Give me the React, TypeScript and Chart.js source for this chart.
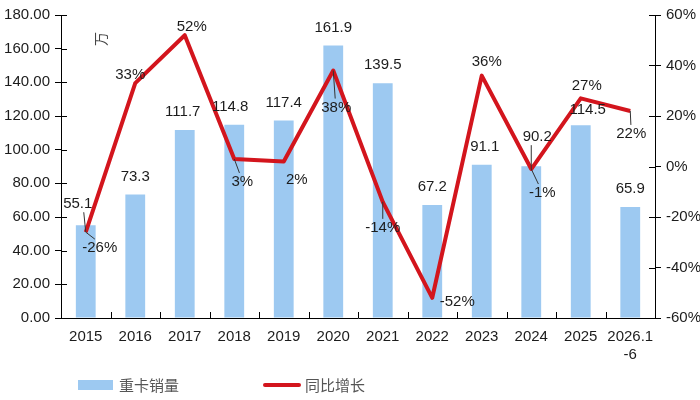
import React, { useEffect, useRef } from "react";
import { Chart, registerables } from "chart.js";

Chart.register(...registerables);

// ---------- data ----------
const categories: (string | string[])[] = [
  "2015", "2016", "2017", "2018", "2019", "2020",
  "2021", "2022", "2023", "2024", "2025", ["2026.1", "-6"],
];
const salesValues = [55.1, 73.3, 111.7, 114.8, 117.4, 161.9, 139.5, 67.2, 91.1, 90.2, 114.5, 65.9];
const growthValues = [-26, 33, 52, 3, 2, 38, -14, -52, 36, -1, 27, 22];
const salesLabel = "重卡销量";
const growthLabel = "同比增长";
const unitLabel = "万";
const leftAxis = { min: 0, max: 180, step: 20 };
const rightAxis = { min: -60, max: 60, step: 20 };

// ---------- label placement (pixel nudges relative to the mark) ----------
const salesLabelNudge = [
  [-8, -21], [0, -18], [-2, -18], [-4, -18], [0, -18], [0, -18],
  [0, -18], [0, -18], [3, -18], [6, -29], [7, -15], [0, -18],
];
const growthLabelNudge = [
  [14, 16], [-5, -8], [7, -8], [8, 23], [13, 18], [3, 37],
  [0, 26], [25, 4], [5, -14], [11, 24], [6, -12], [1, 23],
];
const leaderLines = [true, false, false, true, false, true, true, false, false, true, false, true];
const salesLeader = [true, false, false, false, false, false, false, false, false, true, false, false];

// ---------- styles ----------
const BAR_COLOR = "#9dc9f1";
const LINE_COLOR = "#d3151d";
const TEXT_COLOR = "#1c1c1c";
const FONT = "'Liberation Sans', Arial, sans-serif";
const CJK_FONT = "'Noto Sans CJK SC', sans-serif";

const overlayPlugin = {
  id: "overlay",
  afterDraw(chart: any) {
    const ctx = chart.ctx as CanvasRenderingContext2D;
    const area = chart.chartArea;
    const yL = chart.scales.y;
    const yR = chart.scales.y1;
    const x = chart.scales.x;
    ctx.save();
    // inner halves of tick marks
    ctx.strokeStyle = "#000";
    ctx.lineWidth = 1;
    ctx.beginPath();
    yL.ticks.forEach((t: any) => {
      const py = Math.round(yL.getPixelForValue(t.value)) + 0.5;
      ctx.moveTo(area.left, py);
      ctx.lineTo(area.left + 6, py);
    });
    yR.ticks.forEach((t: any) => {
      const py = Math.round(yR.getPixelForValue(t.value)) + 0.5;
      ctx.moveTo(area.right - 6, py);
      ctx.lineTo(area.right, py);
    });
    const n = categories.length;
    const w = (area.right - area.left) / n;
    for (let i = 1; i < n; i++) {
      const px = Math.round(area.left + i * w) + 0.5;
      ctx.moveTo(px, area.bottom);
      ctx.lineTo(px, area.bottom - 6);
    }
    ctx.stroke();

    // unit label
    ctx.save();
    ctx.translate(area.left + 40, area.top + 24);
    ctx.rotate(-Math.PI / 2);
    ctx.fillStyle = "#444";
    ctx.font = `14px ${CJK_FONT}`;
    ctx.textAlign = "center";
    ctx.textBaseline = "middle";
    ctx.fillText(unitLabel, 0, 0);
    ctx.restore();

    // data labels
    ctx.font = `15px ${FONT}`;
    ctx.fillStyle = TEXT_COLOR;
    ctx.textAlign = "center";
    ctx.textBaseline = "middle";
    const barMeta = chart.getDatasetMeta(0);
    const lineMeta = chart.getDatasetMeta(1);
    barMeta.data.forEach((el: any, i: number) => {
      const [dx, dy] = salesLabelNudge[i];
      const lx = el.x + dx;
      const ly = el.y + dy;
      if (salesLeader[i]) {
        const p = lineMeta.data[i];
        ctx.strokeStyle = "#333";
        ctx.lineWidth = 1;
        ctx.beginPath();
        ctx.moveTo(lx + Math.sign(p.x - lx) * 6, ly + 8);
        ctx.lineTo(p.x, p.y);
        ctx.stroke();
      }
      ctx.fillText(String(salesValues[i]), lx, ly);
    });
    lineMeta.data.forEach((el: any, i: number) => {
      const [dx, dy] = growthLabelNudge[i];
      const lx = el.x + dx;
      const ly = el.y + dy;
      if (leaderLines[i]) {
        ctx.strokeStyle = "#333";
        ctx.lineWidth = 1;
        ctx.beginPath();
        ctx.moveTo(el.x, el.y);
        ctx.lineTo(lx - dx * 0.35, ly - (dy > 0 ? 9 : -9));
        ctx.stroke();
      }
      ctx.fillText(`${growthValues[i]}%`, lx, ly);
    });

    // legend
    const ly = 385;
    ctx.fillStyle = BAR_COLOR;
    ctx.fillRect(78, ly - 5, 35, 10);
    ctx.fillStyle = "#555";
    ctx.font = `15px ${CJK_FONT}`;
    ctx.textAlign = "left";
    ctx.fillText(salesLabel, 119, ly);
    ctx.strokeStyle = LINE_COLOR;
    ctx.lineWidth = 4;
    ctx.lineCap = "round";
    ctx.beginPath();
    ctx.moveTo(265, ly);
    ctx.lineTo(299, ly);
    ctx.stroke();
    ctx.fillText(growthLabel, 305, ly);
    ctx.restore();
  },
};

export default function App() {
  const ref = useRef<HTMLCanvasElement | null>(null);
  useEffect(() => {
    if (!ref.current) return;
    const chart = new Chart(ref.current, {
      type: "bar",
      data: {
        labels: categories as any,
        datasets: [
          {
            type: "bar",
            label: salesLabel,
            data: salesValues,
            backgroundColor: BAR_COLOR,
            categoryPercentage: 1,
            barPercentage: 0.4,
            yAxisID: "y",
            order: 2,
          },
          {
            type: "line",
            label: growthLabel,
            data: growthValues,
            borderColor: LINE_COLOR,
            borderWidth: 4,
            pointRadius: 0,
            tension: 0,
            borderJoinStyle: "round",
            yAxisID: "y1",
            order: 1,
          } as any,
        ],
      },
      options: {
        responsive: false,
        animation: false,
        devicePixelRatio: 1,
        layout: { padding: { top: 15, left: 0, right: 0, bottom: 0 } },
        plugins: { legend: { display: false }, tooltip: { enabled: false } },
        scales: {
          x: {
            offset: true,
            grid: { display: false, drawTicks: false },
            border: { display: true, color: "#000", width: 1 },
            ticks: {
              color: TEXT_COLOR,
              font: { family: FONT, size: 15 },
              padding: 10,
              maxRotation: 0,
              autoSkip: false,
            },
            afterFit(s: any) { s.height = 82; },
          },
          y: {
            position: "left",
            min: leftAxis.min,
            max: leftAxis.max,
            grid: { drawOnChartArea: false, drawTicks: true, tickLength: 6, color: "#000" },
            border: { display: true, color: "#000", width: 1 },
            ticks: {
              stepSize: leftAxis.step,
              color: TEXT_COLOR,
              font: { family: FONT, size: 15 },
              padding: 5,
              callback: (v: any) => Number(v).toFixed(2),
            },
            afterFit(s: any) { s.width = 61; },
          },
          y1: {
            position: "right",
            min: rightAxis.min,
            max: rightAxis.max,
            grid: { drawOnChartArea: false, drawTicks: true, tickLength: 6, color: "#000" },
            border: { display: true, color: "#000", width: 1 },
            ticks: {
              stepSize: rightAxis.step,
              color: TEXT_COLOR,
              font: { family: FONT, size: 15 },
              padding: 5,
              callback: (v: any) => `${v}%`,
            },
            afterFit(s: any) { s.width = 45; },
          },
        },
      },
      plugins: [overlayPlugin],
    });
    return () => chart.destroy();
  }, []);
  return (
    <div style={{ position: "absolute", left: 0, top: 0, width: 700, height: 400, background: "#fff" }}>
      <canvas ref={ref} width={700} height={400} />
    </div>
  );
}
